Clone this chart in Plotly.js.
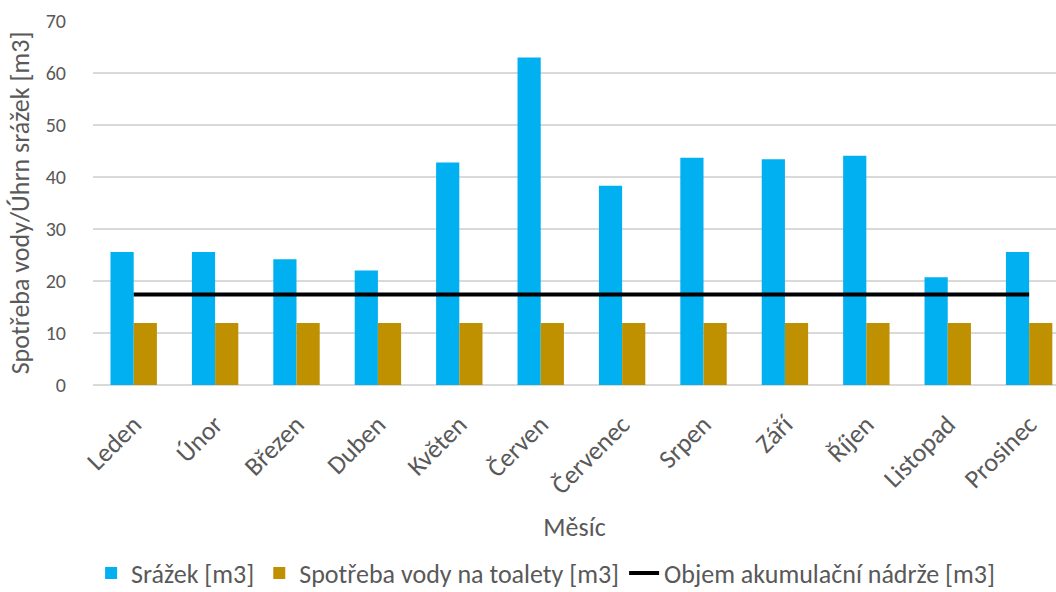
<!DOCTYPE html>
<html><head><meta charset="utf-8">
<script src="https://cdn.plot.ly/plotly-3.0.1.min.js"></script>
<style>html,body{margin:0;padding:0;overflow:hidden;background:#fff}</style>
</head><body>
<div id="chart" style="width:1056px;height:592px"></div>
<script>
const months = ["Leden","Únor","Březen","Duben","Květen","Červen","Červenec","Srpen","Září","Říjen","Listopad","Prosinec"];
const srazky = [25.6, 25.6, 24.2, 22.0, 42.8, 63.0, 38.3, 43.7, 43.4, 44.1, 20.7, 25.6];
const spotreba = [11.9, 11.9, 11.9, 11.9, 11.9, 11.9, 11.9, 11.9, 11.9, 11.9, 11.9, 11.9];
const objem = [17.4, 17.4, 17.4, 17.4, 17.4, 17.4, 17.4, 17.4, 17.4, 17.4, 17.4, 17.4];
const yTicks = [0,10,20,30,40,50,60,70];

const FONT = 'Carlito, "Liberation Sans Narrow", "Open Sans", sans-serif';
const traces = [
  {type:'bar', name:'Srážek [m3]', x:months, y:srazky, marker:{color:'#00B0F0'}},
  {type:'bar', name:'Spotřeba vody na toalety [m3]', x:months, y:spotreba, marker:{color:'#BF9000'}},
  {type:'scatter', mode:'lines', name:'Objem akumulační nádrže [m3]', x:months, y:objem, line:{color:'#000000', width:4}}
];
const layout = {
  width:1056, height:592,
  margin:{l:93, r:0, t:21, b:207},
  paper_bgcolor:'#fff', plot_bgcolor:'#fff',
  font:{family:FONT, color:'#595959', size:20},
  barmode:'group', bargap:0.43, bargroupgap:0,
  showlegend:true,
  legend:{orientation:'h', x:0.47, xanchor:'center', xref:'paper', yref:'container', y:0.032, yanchor:'middle', font:{size:26, color:'#595959'}, traceorder:'normal', itemwidth:30},
  xaxis:{
    type:'category', range:[-0.5, 11.33], tickangle:-45, tickfont:{size:26, color:'#595959'}, automargin:false,
    showgrid:false, showline:false, zeroline:false, ticks:'outside', ticklen:13, tickcolor:'rgba(0,0,0,0)',
    title:{text:'Měsíc', font:{size:26, color:'#595959'}, standoff:18}
  },
  yaxis:{
    range:[0,70], tickvals:yTicks, ticktext:yTicks.map(String), automargin:false,
    showgrid:true, gridcolor:'#d9d9d9', gridwidth:1.3, zeroline:true, zerolinecolor:'#d9d9d9', zerolinewidth:1.3,
    showline:false, ticks:'outside', ticklen:22, tickcolor:'rgba(0,0,0,0)', tickfont:{size:20, color:'#595959'},
    title:{text:'Spotřeba vody/Úhrn srážek [m3]', font:{size:26, color:'#595959'}, standoff:8}
  }
};
Plotly.newPlot('chart', traces, layout, {displayModeBar:false, staticPlot:true});
</script>
</body></html>
